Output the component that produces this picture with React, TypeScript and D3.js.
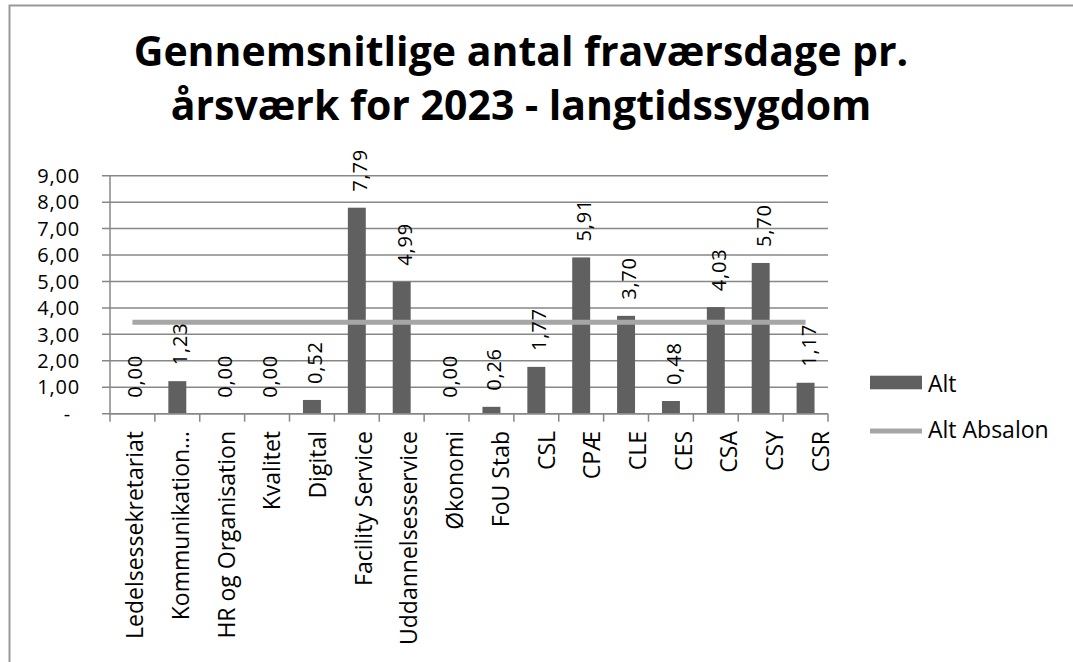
import React, { useEffect } from "react";
import * as d3 from "d3";

const categories = [
  "Ledelsessekretariat",
  "Kommunikation…",
  "HR og Organisation",
  "Kvalitet",
  "Digital",
  "Facility Service",
  "Uddannelsesservice",
  "Økonomi",
  "FoU Stab",
  "CSL",
  "CPÆ",
  "CLE",
  "CES",
  "CSA",
  "CSY",
  "CSR",
];
const altValues = [0, 1.23, 0, 0, 0.52, 7.79, 4.99, 0, 0.26, 1.77, 5.91, 3.7, 0.48, 4.03, 5.7, 1.17];
const absalonValues = [3.46, 3.46, 3.46, 3.46, 3.46, 3.46, 3.46, 3.46, 3.46, 3.46, 3.46, 3.46, 3.46, 3.46, 3.46, 3.46];
const yTicks = [0, 1, 2, 3, 4, 5, 6, 7, 8, 9];
const seriesNames = ["Alt", "Alt Absalon"];
const titleLines = ["Gennemsnitlige antal fraværsdage pr.", "årsværk for 2023 - langtidssygdom"];

const W = 1073;
const H = 662;
const FONT = "'Open Sans', 'DejaVu Sans', sans-serif";
const BAR = "#606060";
const LINE = "#a6a6a6";
const GRID = "#878787";

const da = d3.formatLocale({ decimal: ",", thousands: ".", grouping: [3], currency: ["", " kr"] });
const fmt = da.format(".2f");

export default function App() {
  useEffect(() => {
    document.body.style.margin = "0";
    document.body.style.overflow = "hidden";
    document.documentElement.style.overflow = "hidden";
  }, []);

  const left = 110;
  const right = 828;
  const top = 175.7;
  const bottom = 413.7;

  const x = d3.scaleBand<string>().domain(categories).range([left, right]).paddingInner(0.6).paddingOuter(0.3);
  const xCat = d3.scaleBand<string>().domain(categories).range([left, right]).padding(0);
  const labelX = d3.scalePoint<string>().domain(categories).range([left + 33.3, right + 0.7]);
  const y = d3.scaleLinear().domain([0, 9]).range([bottom, top]);
  const bw = x.bandwidth();

  const line = d3
    .line<number>()
    .x((_, i) => (x(categories[i]) as number) + bw / 2)
    .y((d) => y(d));

  const tickXs = categories.map((c) => xCat(c) as number).concat([right]);
  const fsNum = 20;
  const fsLab = 23;

  return (
    <svg width={W} height={H} style={{ display: "block", background: "#fff" }} fontFamily={FONT}>
      <rect x={0} y={0} width={W} height={H} fill="#fff" />
      <rect x={9.5} y={5.5} width={1200} height={1200} fill="none" stroke="#999" strokeWidth={2} />

      {titleLines.map((t, i) => (
        <text key={i} x={521} y={65.7 + i * 54.3} textAnchor="middle" fontSize={41} fontWeight={700} fill="#000">
          {t}
        </text>
      ))}

      {/* gridlines */}
      {yTicks.map((t) => (
        <line key={"g" + t} x1={left - 8} x2={right} y1={y(t)} y2={y(t)} stroke={GRID} strokeWidth={1.5} />
      ))}
      {/* y axis */}
      <line x1={left} x2={left} y1={top} y2={bottom} stroke={GRID} strokeWidth={1.5} />
      {yTicks.map((t) => (
        <text
          key={"yl" + t}
          x={t === 0 ? 71 : 80}
          y={y(t) + fsNum * 0.36}
          textAnchor="end"
          fontSize={fsNum}
          letterSpacing={0.8}
          fill="#000"
        >
          {t === 0 ? "-" : fmt(t)}
        </text>
      ))}

      {/* bars */}
      {altValues.map((v, i) => (
        <rect
          key={"b" + i}
          x={x(categories[i]) as number}
          y={y(v)}
          width={bw}
          height={bottom - y(v)}
          fill={BAR}
        />
      ))}

      {/* x axis */}
      <line x1={left} x2={right} y1={bottom} y2={bottom} stroke={GRID} strokeWidth={1.5} />
      {tickXs.map((tx, i) => (
        <line key={"xt" + i} x1={tx} x2={tx} y1={bottom} y2={bottom + 8} stroke={GRID} strokeWidth={1.5} />
      ))}

      {/* line series */}
      <path d={line(absalonValues) || ""} fill="none" stroke={LINE} strokeWidth={5} />

      {/* data labels */}
      {altValues.map((v, i) => {
        const cx = (x(categories[i]) as number) + bw / 2;
        return (
          <text
            key={"dl" + i}
            transform={`translate(${cx + 10},${y(v) - 16}) rotate(-90)`}
            textAnchor="start"
            fontSize={fsNum}
            letterSpacing={0.8}
            fill="#000"
          >
            {fmt(v)}
          </text>
        );
      })}

      {/* category labels */}
      {categories.map((c) => (
        <text
          key={"xl" + c}
          transform={`translate(${labelX(c)},${431}) rotate(-90)`}
          textAnchor="end"
          fontSize={fsLab}
          fill="#000"
        >
          {c}
        </text>
      ))}

      {/* legend */}
      <rect x={870} y={375.7} width={52} height={13.6} fill={BAR} />
      <text x={928} y={391.7} fontSize={fsLab} fill="#000">
        {seriesNames[0]}
      </text>
      <line x1={870} x2={922} y1={431} y2={431} stroke={LINE} strokeWidth={5} />
      <text x={928} y={438.3} fontSize={fsLab} fill="#000">
        {seriesNames[1]}
      </text>
    </svg>
  );
}
